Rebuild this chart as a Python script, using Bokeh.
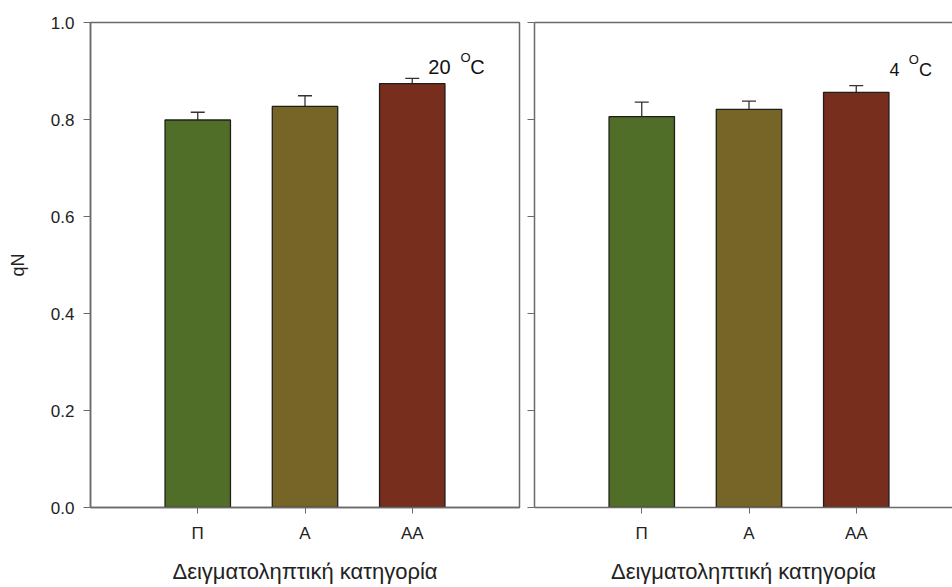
from bokeh.plotting import figure
from bokeh.layouts import row
from bokeh.models import (Range1d, FixedTicker, NumeralTickFormatter, Whisker, TeeHead,
                          ColumnDataSource, Label, LinearAxis)
from bokeh.embed import file_html
from bokeh.resources import INLINE

# ---- data ----
categories = ["Π", "A", "AA"]
positions = [1, 2, 3]
colors = ["#506E27", "#766526", "#782E1C"]
qn_20 = [0.799, 0.827, 0.874]
err_20 = [0.016, 0.022, 0.011]
qn_4 = [0.806, 0.821, 0.856]
err_4 = [0.030, 0.017, 0.014]
y_ticks = [0.0, 0.2, 0.4, 0.6, 0.8, 1.0]
x_title = "Δειγματοληπτική κατηγορία"
y_title = "qN"

FONT = "Liberation Sans"
AX = "#6a6a6a"
TXT = "#222222"
XSCALE_END = 4.0
TOTAL_W = 952
TOTAL_H = 587
LEFT_W = 526


def style_common(p):
    p.grid.visible = False
    p.background_fill_color = "white"
    p.border_fill_color = "white"
    p.xaxis.ticker = FixedTicker(ticks=positions)
    p.xaxis.major_label_overrides = {pos: c for pos, c in zip(positions, categories)}
    p.xaxis.major_tick_out = 6
    p.xaxis.major_tick_in = 0
    p.xaxis.minor_tick_line_color = None
    p.xaxis.axis_line_color = AX
    p.xaxis.axis_line_width = 1.5
    p.xaxis.major_tick_line_color = AX
    p.xaxis.major_label_text_font = FONT
    p.xaxis.major_label_text_font_size = "17px"
    p.xaxis.major_label_text_color = TXT
    p.xaxis.major_label_standoff = 10
    p.xaxis.axis_label = x_title
    p.xaxis.axis_label_text_font = FONT
    p.xaxis.axis_label_text_font_size = "22px"
    p.xaxis.axis_label_text_font_style = "normal"
    p.xaxis.axis_label_text_color = TXT
    p.xaxis.axis_label_standoff = 13
    p.yaxis.ticker = FixedTicker(ticks=y_ticks)
    p.yaxis.major_tick_out = 7
    p.yaxis.major_tick_in = 0
    p.yaxis.minor_tick_line_color = None
    p.yaxis.axis_line_color = AX
    p.yaxis.axis_line_width = 1.5
    p.yaxis.major_tick_line_color = AX


def add_bars(p, vals, errs):
    tops = [v + e for v, e in zip(vals, errs)]
    src = ColumnDataSource(dict(x=positions, top=vals, upper=tops, color=colors))
    p.vbar(x="x", top="top", width=0.61, bottom=0, fill_color="color",
           line_color="#1e1e1e", line_width=1.3, source=src)
    w = Whisker(base="x", lower="top", upper="upper", source=src, dimension="height",
                line_color="#333333", line_width=1.3,
                upper_head=TeeHead(size=14, line_color="#333333", line_width=1.3),
                lower_head=None)
    p.add_layout(w)


# ---- left panel (20 °C) ----
left = figure(width=LEFT_W, height=TOTAL_H, x_range=Range1d(0, XSCALE_END), y_range=Range1d(0, 1.0),
              output_backend="svg", toolbar_location=None,
              min_border_left=90, min_border_right=7, min_border_top=22, min_border_bottom=80)
style_common(left)
left.outline_line_color = AX
left.outline_line_width = 1.5
left.yaxis.formatter = NumeralTickFormatter(format="0.0")
left.yaxis.major_label_text_font = FONT
left.yaxis.major_label_text_font_size = "17px"
left.yaxis.major_label_text_color = TXT
left.yaxis.major_label_standoff = 9
left.yaxis.axis_label = y_title
left.yaxis.axis_label_text_font = FONT
left.yaxis.axis_label_text_font_size = "18px"
left.yaxis.axis_label_text_font_style = "normal"
left.yaxis.axis_label_text_color = TXT
left.yaxis.axis_label_standoff = 20
add_bars(left, qn_20, err_20)
left.add_layout(Label(x=3.15, y=0.908, text="20", text_font=FONT, text_font_size="20px",
                      text_color="#111111", text_baseline="alphabetic"))
left.add_layout(Label(x=3.45, y=0.927, text="O", text_font=FONT, text_font_size="13px",
                      text_color="#111111", text_baseline="alphabetic"))
left.add_layout(Label(x=3.54, y=0.908, text="C", text_font=FONT, text_font_size="20px",
                      text_color="#111111", text_baseline="alphabetic"))

# ---- right panel (4 °C) ----
right_w = TOTAL_W - LEFT_W
frame_w = right_w - 8
right = figure(width=right_w, height=TOTAL_H,
               x_range=Range1d(0, XSCALE_END * frame_w / 429.0), y_range=Range1d(0, 1.0),
               output_backend="svg", toolbar_location=None,
               min_border_left=8, min_border_right=0, min_border_top=22, min_border_bottom=80)
style_common(right)
right.outline_line_color = None
right.yaxis.major_label_overrides = {t: "" for t in y_ticks}
right.yaxis.major_label_standoff = 0
top_axis = LinearAxis(ticker=FixedTicker(ticks=[]), axis_line_color=AX, axis_line_width=1.5,
                      major_tick_line_color=None, minor_tick_line_color=None,
                      major_label_standoff=0)
right.add_layout(top_axis, "above")
add_bars(right, qn_4, err_4)
right.add_layout(Label(x=3.31, y=0.903, text="4", text_font=FONT, text_font_size="18px",
                       text_color="#111111", text_baseline="alphabetic"))
right.add_layout(Label(x=3.49, y=0.924, text="O", text_font=FONT, text_font_size="13px",
                       text_color="#111111", text_baseline="alphabetic"))
right.add_layout(Label(x=3.585, y=0.903, text="C", text_font=FONT, text_font_size="18px",
                       text_color="#111111", text_baseline="alphabetic"))

p = row(left, right, spacing=0)
open("out.html", "w").write(file_html(p, INLINE))
